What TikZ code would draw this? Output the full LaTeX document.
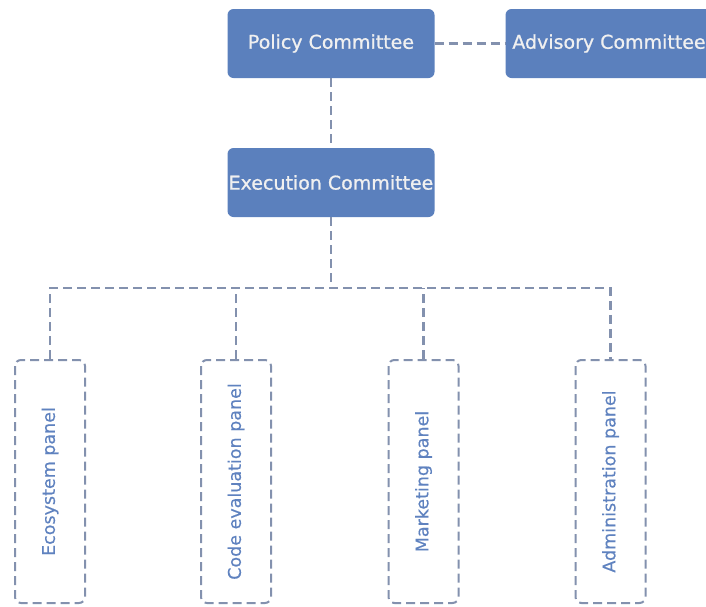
\documentclass[tikz,border=0pt]{standalone}
\usepackage{fontspec}
\setmainfont{DejaVu Sans}
\newfontfamily\boxfont[FakeBold=0.9]{DejaVu Sans}
\newfontfamily\panelfont[FakeBold=0.4]{DejaVu Sans}
\usepackage{tikz}
\usetikzlibrary{positioning,calc}
\definecolor{boxblue}{HTML}{5B80BD}
\definecolor{linegray}{HTML}{8391AE}
\definecolor{panelblue}{HTML}{5F82BF}
\tikzstyle{committee}=[rectangle, rounded corners=6pt, fill=boxblue,
                    draw=none, text=white!94!black, minimum width=207pt,
                    minimum height=69pt, inner sep=0pt,
                    font=\boxfont\fontsize{19}{22}\selectfont]
\tikzstyle{panel}    =[rectangle, rounded corners=6pt, draw=linegray,
                    line width=2pt, dash pattern=on 9pt off 5pt,
                    minimum width=243pt, minimum height=70pt,
                    inner sep=0pt, text=panelblue, rotate=90,
                    font=\panelfont\fontsize{17.5}{20}\selectfont]
\tikzstyle{link}     =[draw=linegray, line width=2.2pt,
                    dash pattern=on 9pt off 5pt]

\begin{document}
\begin{tikzpicture}[x=1pt, y=-1pt, node distance=1pt, on grid]
            \useasboundingbox (0,0) rectangle (706,606);
            \clip (0,0) rectangle (706,606);

            % committees
            \node (policy) [committee] at (331,43.5) {Policy Committee};
            \node (advisory) [committee, right=278pt of policy] {Advisory Committee};
            \node (execution) [committee, below=139pt of policy] {Execution Committee};

            % panels (rotated, so minimum width is the height)
            \node (eco) [panel] at (50,481.5) {Ecosystem panel};
            \node (code) [panel] at (236,481.5) {Code evaluation panel};
            \node (market) [panel] at (423.5,481.5) {Marketing panel};
            \node (admin) [panel] at (610.5,481.5) {Administration panel};

            \coordinate (bus) at ($(execution.south)+(0,71)$);

            \draw[link] (policy) -- (advisory);
            \draw[link] (policy) -- (execution);
            \draw[link] (execution) -- (bus);
            \draw[link] (eco.east) |- (bus) -| (admin.east);
            \foreach \p in {code, market}
                \draw[link] (\p.east) -- (\p.east |- bus);
        \end{tikzpicture}
\end{document}
